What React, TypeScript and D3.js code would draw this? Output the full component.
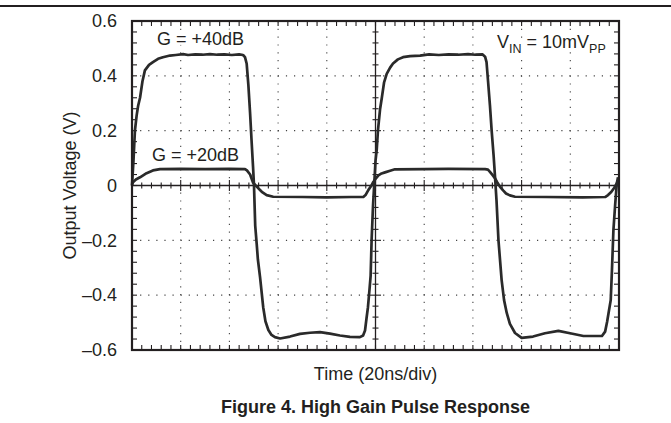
import React from 'react';
import * as d3 from 'd3';

const W = 671;
const H = 423;
const PL = 132, PR = 619, PT = 21, PB = 350;

// Time axis in ns (20 ns/div, 10 divisions)
const xDivisions = [0, 20, 40, 60, 80, 100, 120, 140, 160, 180, 200];
const yTickValues = [0.6, 0.4, 0.2, 0, -0.2, -0.4, -0.6];
const yTickLabels = ['0.6', '0.4', '0.2', '0', '–0.2', '–0.4', '–0.6'];

// G = +40dB trace
const t40 = [0, 0.6, 1.2, 1.9, 2.5, 3.3, 4.3, 5.3, 7.0, 8.6, 10.7, 12.7, 15.6, 18, 21, 23, 26, 29, 32, 35, 38, 41, 44, 45.6,
  46.4, 47.1, 47.8, 48.5, 49.1, 49.7, 50.1, 50.6, 51.2, 51.7, 52.6, 53.9, 54.8, 56.0, 57.3, 58.7, 60.8, 64.9, 69.0, 73.1,
  77.2, 81.3, 85.4, 89.5, 93.6, 94.9, 95.7, 96.3, 96.9, 97.5, 98.0, 98.4, 99.0, 99.5, 100.0, 100.5, 101.0, 101.9, 102.6,
  103.5, 104.6, 106.0, 107.2, 109.2, 111.3, 114.2, 118.3, 122, 126, 130, 134, 138, 141, 144.0, 145.0, 145.6, 146.2, 147.0,
  147.7, 148.5, 149.1, 149.7, 150.5, 151.8, 152.8, 153.9, 155.2, 157.3, 160.0, 164.7, 169.6, 175.1, 179.9, 185.4, 193.0,
  194.3, 195.1, 195.7, 196.6, 197.1, 197.7, 198.4, 199.1, 199.6];
const v40 = [0, 0.09, 0.20, 0.255, 0.29, 0.32, 0.38, 0.42, 0.44, 0.45, 0.462, 0.468, 0.474, 0.476, 0.479, 0.476, 0.478, 0.477,
  0.479, 0.477, 0.478, 0.476, 0.478, 0.476,
  0.468, 0.444, 0.365, 0.263, 0.164, 0.07, 0, -0.146, -0.212, -0.27, -0.335, -0.445, -0.495, -0.527, -0.545, -0.553, -0.558,
  -0.551, -0.541, -0.537, -0.535, -0.54, -0.547, -0.552, -0.553, -0.547, -0.529, -0.485, -0.444, -0.383, -0.33, -0.2, -0.07,
  0.008, 0.09, 0.13, 0.20, 0.28, 0.32, 0.375, 0.407, 0.43, 0.445, 0.46, 0.468, 0.472, 0.474, 0.478, 0.476, 0.478, 0.477, 0.479,
  0.477, 0.478, 0.47, 0.45, 0.383, 0.292, 0.2, 0.11, 0.03, -0.055, -0.2, -0.345, -0.418, -0.465, -0.505, -0.538, -0.556,
  -0.551, -0.539, -0.53, -0.539, -0.549, -0.549, -0.533, -0.498, -0.466, -0.418, -0.31, -0.164, -0.073, 0.008, 0.03];

// G = +20dB trace
const t20 = [0, 0.4, 1.6, 3.3, 6.0, 8.6, 11.5, 20, 30, 40, 46.4, 47.2, 48.5, 49.7, 51.2, 53.3, 55.3, 58.0, 70, 80, 90, 95.0,
  95.9, 97.1, 98.2, 99.1, 100.0, 101.2, 102.5, 103.9, 106.0, 108.0, 120, 130, 145.0, 146.2, 147.0, 148.1, 149.1, 149.9,
  151.1, 152.4, 153.6, 155.2, 157.3, 170, 185, 194.3, 195.5, 196.8, 198.0, 199.2];
const v20 = [0.003, 0.012, 0.022, 0.03, 0.045, 0.055, 0.06, 0.061, 0.06, 0.061, 0.06, 0.055, 0.04, 0.011, -0.004, -0.023,
  -0.035, -0.041, -0.042, -0.043, -0.042, -0.042, -0.035, -0.016, -0.002, 0.013, 0.024, 0.037, 0.044, 0.048, 0.054, 0.059,
  0.06, 0.061, 0.06, 0.058, 0.05, 0.038, 0.026, 0.013, -0.004, -0.018, -0.029, -0.036, -0.041, -0.042, -0.043, -0.042,
  -0.035, -0.024, -0.009, 0.009];

const FONT = '"Liberation Sans", Arial, Helvetica, sans-serif';
const INK = '#231f20';

export default function App() {
  const x = d3.scaleLinear().domain([0, 200]).range([PL, PR]);
  const y = d3.scaleLinear().domain([-0.6, 0.6]).range([PB, PT]);
  const line = d3.line<[number, number]>().x(d => x(d[0])).y(d => y(d[1]));
  const d40 = line(t40.map((t, i) => [t, v40[i]] as [number, number])) || '';
  const d20 = line(t20.map((t, i) => [t, v20[i]] as [number, number])) || '';

  const xMinor = d3.range(0, 51).map(i => i * 4);
  const yMinor = d3.range(-15, 16).map(i => i * 0.04);
  const xc = x(100);
  const y0 = y(0);
  const tickLen = 5;
  const halo = { stroke: '#fff', strokeWidth: 5, paintOrder: 'stroke' as const, strokeLinejoin: 'round' as const };

  return (
    <svg width={W} height={H} style={{ position: 'absolute', left: 0, top: 0, background: '#fff' }}>
      <line x1={0} x2={W} y1={6} y2={6} stroke={INK} strokeWidth={2} />

      {/* dotted grid */}
      {xDivisions.filter(v => v !== 0 && v !== 200 && v !== 100).map(v => (
        <line key={'gx' + v} x1={x(v)} x2={x(v)} y1={PT} y2={PB} stroke="#444" strokeWidth={1.1}
          strokeDasharray="1.2 6.6" />
      ))}
      {yTickValues.filter(v => Math.abs(v) > 0.01 && Math.abs(v) < 0.59).map(v => (
        <line key={'gy' + v} x1={PL} x2={PR} y1={y(v)} y2={y(v)} stroke="#444" strokeWidth={1.1}
          strokeDasharray="1.2 6.9" />
      ))}

      {/* center lines */}
      <line x1={PL} x2={PR} y1={y0} y2={y0} stroke={INK} strokeWidth={1.3} />
      <line x1={xc} x2={xc} y1={PT} y2={PB} stroke={INK} strokeWidth={1.3} />

      {/* ticks on border and center lines */}
      {xMinor.map((v, i) => {
        const major = i % 5 === 0;
        const L = major ? 5.5 : 3;
        return (
          <g key={'xt' + i}>
            <line x1={x(v)} x2={x(v)} y1={PT} y2={PT + tickLen} stroke={INK} strokeWidth={1.1} />
            <line x1={x(v)} x2={x(v)} y1={PB} y2={PB - tickLen} stroke={INK} strokeWidth={1.1} />
            <line x1={x(v)} x2={x(v)} y1={y0 - L} y2={y0 + L} stroke={INK} strokeWidth={1.1} />
          </g>
        );
      })}
      {yMinor.map((v, i) => {
        const major = (i - 15) % 5 === 0;
        const L = major ? 5.5 : 3;
        return (
          <g key={'yt' + i}>
            <line x1={PL} x2={PL + tickLen} y1={y(v)} y2={y(v)} stroke={INK} strokeWidth={1.1} />
            <line x1={PR} x2={PR - tickLen} y1={y(v)} y2={y(v)} stroke={INK} strokeWidth={1.1} />
            <line x1={xc - L} x2={xc + L} y1={y(v)} y2={y(v)} stroke={INK} strokeWidth={1.1} />
          </g>
        );
      })}

      {/* annotations (knock out grid behind) */}
      <text x={157} y={45} fontFamily={FONT} fontSize={18} fill={INK} {...halo}>G = +40dB</text>
      <text x={152} y={161} fontFamily={FONT} fontSize={18} fill={INK} {...halo}>G = +20dB</text>
      <text x={497} y={48} fontFamily={FONT} fontSize={18} fill={INK} {...halo}>
        V<tspan fontSize={12.5} dy={5}>IN</tspan><tspan dy={-5}> = 10mV</tspan><tspan fontSize={12.5} dy={5}>PP</tspan>
      </text>

      {/* traces */}
      <path d={d20} fill="none" stroke="#2a2a2a" strokeWidth={2.7} strokeLinejoin="round" />
      <path d={d40} fill="none" stroke="#2a2a2a" strokeWidth={2.7} strokeLinejoin="round" />

      {/* frame */}
      <rect x={PL} y={PT} width={PR - PL} height={PB - PT} fill="none" stroke={INK} strokeWidth={2.2} />

      {/* y tick labels */}
      {yTickValues.map((v, i) => (
        <text key={'yl' + i} x={117} y={y(v)} dy="0.35em" textAnchor="end" fontFamily={FONT} fontSize={18} fill={INK}>
          {yTickLabels[i]}
        </text>
      ))}

      {/* axis titles */}
      <text x={(PL + PR) / 2} y={380} textAnchor="middle" fontFamily={FONT} fontSize={18} fill={INK}>Time (20ns/div)</text>
      <text transform={`translate(76, ${(PT + PB) / 2}) rotate(-90)`} textAnchor="middle" fontFamily={FONT} fontSize={18}
        fill={INK}>Output Voltage (V)</text>

      <text x={(PL + PR) / 2} y={413} textAnchor="middle" fontFamily={FONT} fontSize={18} fontWeight="bold" fill={INK}>
        Figure 4. High Gain Pulse Response
      </text>
    </svg>
  );
}
